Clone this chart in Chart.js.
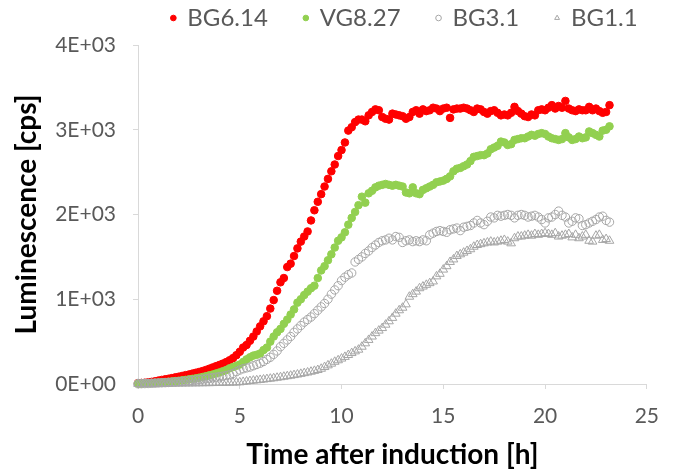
<!DOCTYPE html>
<html>
<head>
<meta charset="utf-8">
<script src="https://cdn.jsdelivr.net/npm/chart.js@4.4.1/dist/chart.umd.min.js"></script>
<style>
  html, body { margin: 0; padding: 0; background: #fff; }
  #wrap { width: 674px; height: 472px; }
</style>
</head>
<body>
<div id="wrap"><canvas id="lumChart"></canvas></div>
<script>
// luminescence readings, one every 10 min after induction (cps)
const seriesNames = ['BG6.14', 'VG8.27', 'BG3.1', 'BG1.1'];

const bg614 = [
  10, 12, 15, 20, 25, 32,
  40, 48, 55, 62, 70, 78,
  86, 95, 104, 112, 122, 132,
  142, 152, 165, 180, 195, 210,
  225, 240, 258, 280, 305, 340,
  380, 430, 460, 510, 560, 620,
  680, 740, 800, 890, 990, 1100,
  1200, 1250, 1380, 1420, 1510, 1600,
  1680, 1740, 1800, 1930, 2050, 2150,
  2240, 2330, 2420, 2510, 2590, 2690,
  2760, 2850, 2990, 3030, 3090, 3120,
  3120, 3100, 3170, 3210, 3240, 3230,
  3150, 3130, 3120, 3190, 3180, 3170,
  3160, 3130, 3150, 3210, 3230, 3190,
  3240, 3220, 3230, 3260, 3250, 3220,
  3250, 3260, 3140, 3240, 3250, 3250,
  3260, 3250, 3230, 3210, 3250, 3240,
  3210, 3190, 3220, 3230, 3200, 3170,
  3180, 3170, 3200, 3270, 3220, 3190,
  3160, 3150, 3180, 3170, 3230, 3240,
  3230, 3260, 3290, 3250, 3280, 3260,
  3340, 3250, 3230, 3220, 3240, 3230,
  3230, 3270, 3230, 3250, 3220, 3200,
  3210, 3290
];

const vg827 = [
  5, 6, 8, 10, 12, 14,
  17, 20, 23, 27, 30, 34,
  38, 43, 48, 54, 60, 66,
  74, 82, 92, 102, 112, 124,
  136, 150, 165, 185, 200, 215,
  230, 260, 290, 315, 335, 345,
  360, 400, 430, 500, 560, 610,
  650, 710, 760, 820, 880, 960,
  1000, 1050, 1090, 1130, 1160, 1250,
  1340, 1390, 1460, 1530, 1610, 1690,
  1730, 1790, 1880, 1960, 2030, 2110,
  2210, 2140, 2250, 2280, 2320, 2340,
  2350, 2360, 2350, 2340, 2350, 2340,
  2330, 2260, 2250, 2320, 2250, 2240,
  2290, 2310, 2330, 2350, 2380, 2390,
  2400, 2420, 2450, 2510, 2540, 2550,
  2570, 2590, 2630, 2680, 2690, 2700,
  2700, 2720, 2770, 2790, 2810, 2860,
  2850, 2820, 2830, 2880, 2890, 2900,
  2900, 2920, 2940, 2930, 2950, 2960,
  2950, 2920, 2900, 2890, 2880, 2890,
  2960, 2910, 2880, 2890, 2920, 2900,
  2910, 2980, 2960, 2940, 2920, 2990,
  3000, 3040
];

const bg31 = [
  3, 4, 5, 6, 8, 10,
  12, 14, 16, 18, 21, 24,
  27, 30, 34, 38, 42, 47,
  52, 57, 62, 68, 74, 80,
  86, 92, 100, 110, 125, 145,
  165, 180, 190, 200, 215, 230,
  245, 265, 290, 315, 350, 390,
  440, 480, 520, 560, 610, 650,
  690, 730, 760, 790, 830, 870,
  910, 950, 1000, 1060, 1110, 1160,
  1220, 1260, 1290, 1310, 1440, 1470,
  1500, 1540, 1570, 1610, 1640, 1670,
  1690, 1700, 1720, 1700, 1740, 1730,
  1670, 1690, 1700, 1680, 1690, 1680,
  1700, 1690, 1760, 1780, 1800, 1810,
  1800, 1790, 1820, 1830, 1840, 1810,
  1850, 1860, 1870, 1900, 1930, 1900,
  1880, 1920, 1970, 1960, 1990, 1980,
  1990, 2000, 1990, 1960, 1990, 2000,
  1990, 1970, 1980, 1990, 1970, 1940,
  1900, 1960, 1970, 2000, 2040, 1990,
  1970, 1900, 1920, 1960, 1950, 1870,
  1880, 1900, 1920, 1940, 1970, 1980,
  1930, 1910
];

const bg11 = [
  2, 2, 3, 3, 3, 4,
  4, 4, 5, 5, 5, 6,
  6, 6, 7, 7, 8, 8,
  9, 9, 10, 10, 11, 12,
  13, 14, 15, 16, 17, 18,
  20, 25, 30, 35, 40, 44,
  48, 53, 58, 63, 68, 74,
  80, 86, 92, 98, 105, 112,
  120, 128, 136, 145, 155, 165,
  180, 200, 220, 240, 262, 280,
  300, 320, 342, 365, 385, 405,
  440, 480, 520, 560, 600, 630,
  660, 700, 740, 780, 830, 870,
  900, 940, 1030, 1060, 1090, 1130,
  1150, 1170, 1190, 1210, 1270, 1300,
  1350, 1390, 1440, 1470, 1510, 1530,
  1550, 1570, 1590, 1620, 1640, 1650,
  1660, 1670, 1680, 1670, 1680, 1690,
  1700, 1680, 1660, 1720, 1740, 1740,
  1750, 1760, 1750, 1770, 1760, 1770,
  1780, 1770, 1760, 1780, 1740, 1750,
  1760, 1770, 1730, 1760, 1720, 1740,
  1760, 1690, 1680, 1750, 1760, 1700,
  1710, 1690
];

// sampling every 10 minutes -> hours
const sampleHours = bg614.map((_, i) => i * 10 / 60);

const toPoints = vals => vals.map((v, i) => ({ x: sampleHours[i], y: v }));

// 0E+00, 1E+03 ...
function sciLabel(v) {
  if (v === 0) return '0E+00';
  const e = Math.floor(Math.log10(v));
  const m = Math.round(v / Math.pow(10, e));
  return m + 'E+' + String(e).padStart(2, '0');
}

const AXIS_GRAY = '#d9d9d9';
const TEXT_GRAY = '#595959';
const FONT = 'Lato, "Open Sans", sans-serif';

// legend items are spaced wide, so the row needs a big padding;
// pull the top edge of the legend up so that row sits in the top margin,
// and slide it right so it sits over the plot
const legendLift = {
  id: 'legendLift',
  afterLayout(chart) {
    const lg = chart.legend;
    if (!lg) return;
    lg.top -= 31;
    lg.left += 72;
    lg.right += 72;
  }
};

new Chart(document.getElementById('lumChart'), {
  type: 'scatter',
  data: {
    datasets: [
      {
        label: seriesNames[0],
        data: toPoints(bg614),
        pointStyle: 'circle',
        pointRadius: 3.8,
        backgroundColor: '#ff0000',
        borderColor: '#ff0000',
        borderWidth: 1,
        order: 4
      },
      {
        label: seriesNames[1],
        data: toPoints(vg827),
        pointStyle: 'circle',
        pointRadius: 3.8,
        backgroundColor: '#92d050',
        borderColor: '#92d050',
        borderWidth: 1,
        order: 3
      },
      {
        label: seriesNames[2],
        data: toPoints(bg31),
        pointStyle: 'circle',
        pointRadius: 4.2,
        backgroundColor: 'rgba(255,255,255,0)',
        borderColor: '#a6a6a6',
        borderWidth: 1,
        order: 2
      },
      {
        label: seriesNames[3],
        data: toPoints(bg11),
        pointStyle: 'triangle',
        pointRadius: 5,
        backgroundColor: 'rgba(255,255,255,0)',
        borderColor: '#a6a6a6',
        borderWidth: 1,
        order: 1
      }
    ]
  },
  options: {
    responsive: true,
    maintainAspectRatio: false,
    animation: false,
    clip: false,
    layout: { padding: { left: 10, right: 19, top: 1, bottom: 0 } },
    plugins: {
      tooltip: { enabled: false },
      legend: {
        position: 'top',
        fullSize: true,
        maxHeight: 44,
        labels: {
          usePointStyle: true,
          boxWidth: 4,
          boxHeight: 4,
          padding: 36,
          color: TEXT_GRAY,
          font: { family: FONT, size: 24 },
          sort: (a, b) => a.datasetIndex - b.datasetIndex
        }
      }
    },
    scales: {
      x: {
        type: 'linear',
        min: 0,
        max: 25,
        border: { color: AXIS_GRAY, width: 1 },
        grid: { drawOnChartArea: false, drawTicks: true, tickLength: 5, color: AXIS_GRAY },
        ticks: { stepSize: 5, color: TEXT_GRAY, padding: 15, font: { family: FONT, size: 21 } },
        title: {
          display: true,
          text: 'Time after induction [h]',
          color: '#000',
          padding: { top: 0, bottom: 0 },
          font: { family: FONT, size: 28, weight: 'bold' }
        },
        afterFit(scale) { scale.height = 88; }
      },
      y: {
        type: 'linear',
        min: 0,
        max: 4000,
        border: { color: AXIS_GRAY, width: 1 },
        grid: { drawOnChartArea: false, drawTicks: true, tickLength: 5, color: AXIS_GRAY },
        ticks: {
          stepSize: 1000,
          color: TEXT_GRAY,
          padding: 17,
          font: { family: FONT, size: 21 },
          callback: v => sciLabel(v)
        },
        title: {
          display: true,
          text: 'Luminescence [cps]',
          color: '#000',
          padding: { top: 0, bottom: 0 },
          font: { family: FONT, size: 28, weight: 'bold' }
        },
        afterFit(scale) { scale.width = 128; }
      }
    }
  },
  plugins: [legendLift]
});
</script>
</body>
</html>
